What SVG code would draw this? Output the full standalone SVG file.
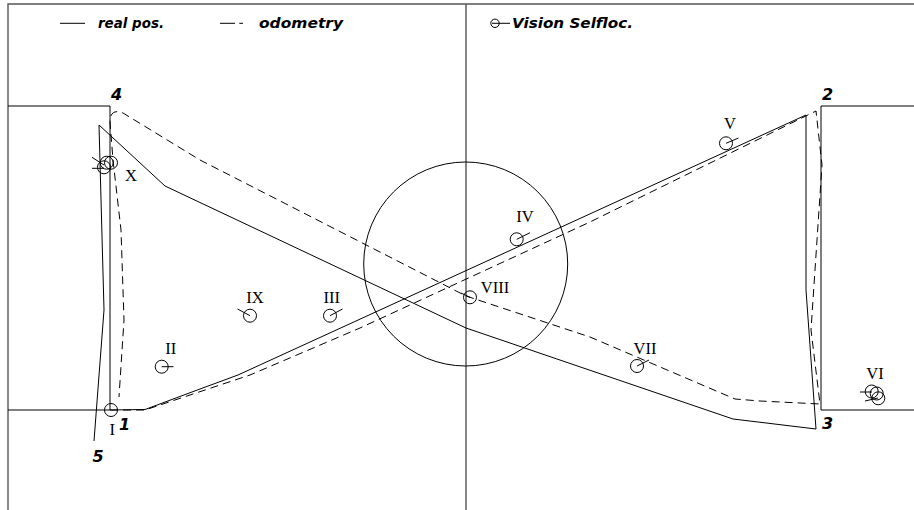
<svg xmlns="http://www.w3.org/2000/svg" width="914" height="510" viewBox="0 0 914 510">
<style>
.frame{stroke:#555;stroke-width:1.4;fill:none}
.box{stroke:#000;stroke-width:1;fill:none}
.real{stroke:#000;stroke-width:1;fill:none;stroke-linejoin:round}
.odo{stroke:#000;stroke-width:1;fill:none;stroke-dasharray:8,5}
.vis{stroke:#000;stroke-width:1;fill:none}
.leg{font-family:"DejaVu Sans",sans-serif;font-weight:bold;font-style:italic;font-size:14.5px;fill:#000}
.num{font-family:"DejaVu Sans",sans-serif;font-weight:bold;font-style:italic;font-size:16px;fill:#000}
.rom{font-family:"Liberation Serif",serif;font-size:16.5px;fill:#000;text-anchor:middle}
</style>
<rect width="914" height="510" fill="#fff"/>
<g id="field">
<path class="frame" d="M8,510 V4 H914 M466,4 V510"/>
<path class="box" d="M8,106 H110 V410 H8"/>
<path class="box" d="M914,106 H821 V410 H914"/>
<circle class="box" cx="465.7" cy="264" r="102"/>
</g>
<g id="legend">
<line class="real" x1="60" y1="23.3" x2="85" y2="23.3"/>
<text class="leg" x="98" y="27.8" textLength="66" lengthAdjust="spacingAndGlyphs">real pos.</text>
<path class="real" d="M220,23.3 H235 M239.3,23.3 H243"/>
<text class="leg" x="259" y="27.8" textLength="84" lengthAdjust="spacingAndGlyphs">odometry</text>
<circle class="vis" cx="495" cy="23.3" r="4.2"/>
<line class="vis" x1="492" y1="23.3" x2="510" y2="23.3"/>
<text class="leg" x="512" y="27.8" textLength="121" lengthAdjust="spacingAndGlyphs">Vision Selfloc.</text>
</g>
<g id="connectors">
<polyline id="real-path" class="real" points="110,410 145,409.5 200,389 238,375 806,115 806,290 816,429 733,419 466,328 165,186 99,125 104,310 94,441"/>
<path id="odometry-path" class="odo" d="M110,410 L145,410 L205,390 L250,375 L360,328 L590,222 L816,111 L822,165 L811,330 L820,404 L760,401 L735,399 L590,337 L466,296 L200,160 L123,113 Q110,108 110,122 L113,160 L121,230 L124,320 L119,397"/>
</g>
<g id="corner-labels">
<text class="num" x="111" y="99.5">4</text>
<text class="num" x="822" y="99.5">2</text>
<text class="num" x="822" y="429">3</text>
<text class="num" x="119" y="429.5">1</text>
<text class="num" x="92.5" y="462">5</text>
</g>
<g id="vision-I">
<circle class="vis" cx="111" cy="410" r="6.5"/>
<text class="rom" x="112.3" y="435">I</text>
</g>
<g id="vision-II">
<circle class="vis" cx="161.7" cy="366.7" r="6.5"/>
<line class="vis" x1="161.7" y1="366.7" x2="173.5" y2="366.7"/>
<text class="rom" x="170.7" y="354">II</text>
</g>
<g id="vision-III">
<circle class="vis" cx="330" cy="315.7" r="6.5"/>
<line class="vis" x1="330" y1="315.7" x2="342.5" y2="309"/>
<text class="rom" x="331.7" y="303">III</text>
</g>
<g id="vision-IV">
<circle class="vis" cx="516.7" cy="239.3" r="6.5"/>
<line class="vis" x1="516.7" y1="239.3" x2="530" y2="232.7"/>
<text class="rom" x="525" y="221.7">IV</text>
</g>
<g id="vision-V">
<circle class="vis" cx="726" cy="143.3" r="6.5"/>
<line class="vis" x1="726" y1="143.3" x2="738.5" y2="138"/>
<text class="rom" x="730" y="129.3">V</text>
</g>
<g id="vision-VI">
<circle class="vis" cx="871.7" cy="391.5" r="6.5"/>
<circle class="vis" cx="876.7" cy="393.5" r="6.5"/>
<circle class="vis" cx="878.3" cy="398.3" r="6.5"/>
<line class="vis" x1="860" y1="392" x2="872" y2="392"/>
<line class="vis" x1="865" y1="401" x2="878" y2="398"/>
<text class="rom" x="875" y="378.5">VI</text>
</g>
<g id="vision-VII">
<circle class="vis" cx="637" cy="366" r="6.5"/>
<line class="vis" x1="637" y1="366" x2="649" y2="360"/>
<text class="rom" x="645" y="354">VII</text>
</g>
<g id="vision-VIII">
<circle class="vis" cx="470" cy="297.3" r="6.5"/>
<line class="vis" x1="470" y1="297.3" x2="461" y2="293"/>
<text class="rom" x="495" y="292.7">VIII</text>
</g>
<g id="vision-IX">
<circle class="vis" cx="250" cy="315.7" r="6.5"/>
<line class="vis" x1="250" y1="315.7" x2="237.5" y2="309"/>
<text class="rom" x="255" y="303">IX</text>
</g>
<g id="vision-X">
<circle class="vis" cx="106.7" cy="162.7" r="6.5"/>
<circle class="vis" cx="111" cy="162.7" r="6.5"/>
<circle class="vis" cx="104" cy="167.3" r="6.5"/>
<line class="vis" x1="92" y1="157.3" x2="104" y2="165"/>
<line class="vis" x1="92" y1="168.3" x2="104" y2="168.3"/>
<text class="rom" x="131" y="181">X</text>
</g>
</svg>
